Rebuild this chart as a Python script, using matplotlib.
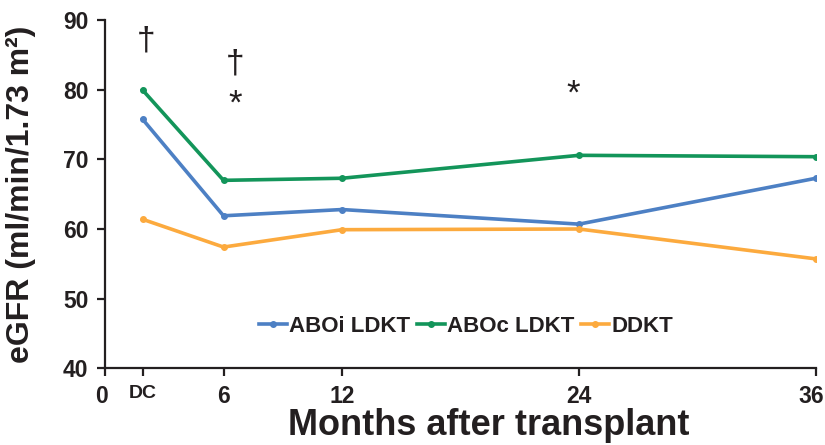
import matplotlib
matplotlib.use("Agg")
import matplotlib.pyplot as plt
import matplotlib.transforms as mtransforms

plt.rcParams["font.family"] = ["Liberation Sans", "DejaVu Sans"]
plt.rcParams["font.weight"] = "bold"

INK = "#231f20"

# months after transplant (DC = discharge, placed at ~1.9 months)
months = [1.9, 6, 12, 24, 36]
tick_pos = [0, 1.9, 6, 12, 24, 36]
tick_labels = ["0", "DC", "6", "12", "24", "36"]

aboi_ldkt = [75.8, 61.9, 62.8, 60.7, 67.3]
aboc_ldkt = [80.0, 67.0, 67.3, 70.6, 70.4]
ddkt = [61.4, 57.4, 59.9, 60.0, 55.7]

series = [
    ("ABOi LDKT", aboi_ldkt, "#4d80c4"),
    ("ABOc LDKT", aboc_ldkt, "#13955a"),
    ("DDKT", ddkt, "#fcaa3e"),
]

# significance marks: (x, y, symbol)
marks = [(2.1, 87.1, "\u2020"), (6.6, 83.8, "\u2020"), (6.6, 78.0, "*"), (23.7, 79.4, "*")]

fig = plt.figure(figsize=(8.25, 4.45), dpi=100)
ax = fig.add_axes([0.1273, 0.173, 0.989 - 0.1273, 0.954 - 0.173])

for name, vals, col in series:
    ax.plot(months, vals, color=col, lw=2.6, marker="o", ms=4, label=name,
            solid_joinstyle="miter")

for x, y, s in marks:
    if s == "*":
        ax.text(x, y, s, fontsize=25, fontweight="normal", ha="center", va="center",
                color=INK, family=["Liberation Sans", "DejaVu Sans"])
    else:
        ax.text(x, y, s, fontsize=24, fontweight="normal", ha="center", va="center",
                color=INK, family=["Liberation Sans", "DejaVu Sans"])

ax.set_xlim(0, 36)
ax.set_ylim(40, 90)
ax.set_yticks(range(40, 91, 10))
ax.set_xticks(tick_pos)
ax.set_xticklabels(tick_labels)

for spine in ["top", "right"]:
    ax.spines[spine].set_visible(False)
for spine in ["left", "bottom"]:
    ax.spines[spine].set_linewidth(1.6)
    ax.spines[spine].set_color(INK)

ax.tick_params(axis="both", direction="out", length=6, width=1.6, colors=INK,
               labelsize=16.5, pad=6)
for lab in ax.get_xticklabels():
    txt = lab.get_text()
    if txt == "DC":
        lab.set_fontsize(14)
    elif txt == "0":
        lab.set_transform(lab.get_transform() +
                          mtransforms.ScaledTranslation(-4 / 100, 0, fig.dpi_scale_trans))
    elif txt == "36":
        lab.set_transform(lab.get_transform() +
                          mtransforms.ScaledTranslation(-5 / 100, 0, fig.dpi_scale_trans))

ax.set_xlabel("Months after transplant", fontsize=26, fontweight="bold", color=INK)
ax.xaxis.set_label_coords(0.54, -0.115)
ax.set_ylabel("eGFR (ml/min/1.73 m\u00b2)", fontsize=23, fontweight="bold", color=INK)
ax.yaxis.set_label_coords(-0.097, 0.5)

leg = ax.legend(loc="center", bbox_to_anchor=(0.508, 0.12), ncol=3, frameon=False,
                fontsize=16, handlelength=1.25, handletextpad=0.1, columnspacing=0.3,
                borderaxespad=0)
for t in leg.get_texts():
    t.set_color(INK)

fig.savefig("out.png", dpi=100)
